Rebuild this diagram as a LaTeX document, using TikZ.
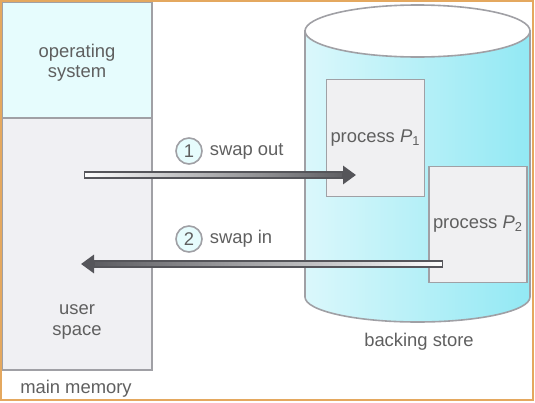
\documentclass[tikz,border=0pt]{standalone}
\usepackage{fontspec}
\setmainfont{Liberation Sans}
\usepackage{tikz}
\usetikzlibrary{arrows.meta, positioning, fadings, calc}
\definecolor{textgray}{RGB}{95, 95, 95}
\definecolor{linegray}{RGB}{160, 160, 165}
\definecolor{oscolor}{RGB}{230, 252, 253}
\definecolor{usercolor}{RGB}{240, 240, 243}
\definecolor{proccolor}{RGB}{240, 240, 242}
\definecolor{storecolor}{RGB}{110, 225, 240}
\definecolor{arrowdark}{RGB}{85, 85, 90}
\definecolor{framecolor}{RGB}{228, 168, 95}
\tikzfading[name=fadeleft, left color=transparent!0, right color=transparent!100]
\tikzfading[name=faderight, left color=transparent!100, right color=transparent!0]

\begin{document}
\begin{tikzpicture}[x=0.5pt, y=-0.5pt, every node/.style={align=center, text=textgray, font=\fontsize{9.2}{10.2}\selectfont},
    memcell/.style={draw=linegray, line width=0.8pt, inner sep=0pt},
    procbox/.style={draw=linegray, fill=proccolor, line width=0.8pt, minimum width=48.5pt, minimum height=58.5pt, inner sep=2pt},
    stepnum/.style={circle, draw=linegray, fill=oscolor, line width=0.8pt, minimum size=13pt, inner sep=0pt},
    swapbar/.style={line width=3.6pt, draw=arrowdark, -{Triangle[length=6.5pt, width=9pt]}},
    swapshine/.style={line width=2pt, draw=white, shorten >=7pt, shorten <=0.7pt}]
        \useasboundingbox (0, 0) rectangle (535, 402);

        % Backing store cylinder
        \shade[left color=storecolor!25, middle color=storecolor!5, right color=storecolor!75, draw=linegray, line width=0.8pt]
            (305, 31) -- (305, 297) arc[start angle=180, end angle=360, x radius=56.25pt, y radius=12.5pt] -- (530, 31) -- cycle;
        \draw[fill=white, draw=linegray, line width=0.8pt] (417.5, 31) ellipse[x radius=56.25pt, y radius=13pt];
        \node (store) at (419, 342) {backing store};

        % Processes in the backing store
        \node[procbox] (p1) at (375.5, 138) {process \textit{P}\textsubscript{1}};
        \node[procbox, minimum width=49pt, minimum height=58pt] (p2) at (478, 224.5) {process \textit{P}\textsubscript{2}};

        % Main memory
        \node[memcell, fill=oscolor, minimum width=75pt, minimum height=58pt] (os) at (77, 60) {};
        \node (ostext) at (77, 63) {operating\\system};
        \node[memcell, fill=usercolor, minimum width=75pt, minimum height=126pt] (user) at (77, 244) {};
        \node (usertext) at (77, 322) {user\\space};
        \node (mainmem) at (76, 389) {main memory};

        % Swap steps
        \coordinate (outtail) at (84, 175);
        \coordinate (outhead) at (356, 175);
        \coordinate (intail) at (443, 264);
        \coordinate (inhead) at (81, 264);

        \node[stepnum] (step1) at (189, 151) {1};
        \node[right=0pt of step1] (swapout) {swap out};
        \node[stepnum] (step2) at (189, 239) {2};
        \node[right=0pt of step2] (swapin) {swap in};

        \draw[swapbar] (outtail) -- (outhead);
        \draw[swapshine, path fading=fadeleft] (outtail) -- (outhead);
        \draw[swapbar] (intail) -- (inhead);
        \draw[swapshine, path fading=faderight] (intail) -- (inhead);

        % Frame
        \draw[framecolor, line width=1.2pt] (1, 1) rectangle (533, 400);

    \end{tikzpicture}
\end{document}
